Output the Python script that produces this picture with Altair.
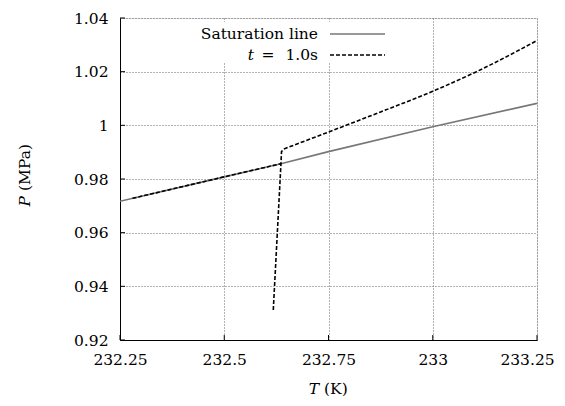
import altair as alt
import pandas as pd

# ---- data ----
sat_T = [232.25, 232.5, 232.636, 232.75, 233.0, 233.25]
sat_P = [0.9717, 0.9808, 0.9857, 0.9902, 0.9995, 1.0082]

# t = 1.0 s curve, three pieces
dashA_T = [232.28, 232.5, 232.636]
dashA_P = [0.9728, 0.9808, 0.9857]
dashB_T = [232.6176, 232.636, 232.6373, 232.643]
dashB_P = [0.9312, 0.9857, 0.9902, 0.9912]
dashC_T = [232.643, 232.75, 232.875, 233.0, 233.105, 233.25]
dashC_P = [0.9912, 0.9975, 1.0050, 1.0127, 1.0200, 1.0316]

x_ticks = [232.25, 232.5, 232.75, 233.0, 233.25]
y_ticks = [0.92, 0.94, 0.96, 0.98, 1.0, 1.02, 1.04]

legend_labels = ["Saturation line", "t", "=", "1.0s"]

FONT = "DejaVu Serif"
FS = 15.5
W, H = 417, 322

sat_df = pd.DataFrame({"T": sat_T, "P": sat_P, "i": range(len(sat_T))})
dA = pd.DataFrame({"T": dashA_T, "P": dashA_P, "i": range(len(dashA_T))})
dB = pd.DataFrame({"T": dashB_T, "P": dashB_P, "i": range(len(dashB_T))})
dC = pd.DataFrame({"T": dashC_T, "P": dashC_P, "i": range(len(dashC_T))})
xt_df = pd.DataFrame({"T": x_ticks})
yt_df = pd.DataFrame({"P": y_ticks})
one = pd.DataFrame({"a": [0]})

xscale = alt.Scale(domain=[x_ticks[0], x_ticks[-1]], nice=False, zero=False)
yscale = alt.Scale(domain=[y_ticks[0], y_ticks[-1]], nice=False, zero=False)

common_axis = dict(title=None, grid=True, gridDash=[1, 2], gridColor="#666", gridWidth=1,
                   ticks=False, domainColor="black", domainWidth=1, labelFont=FONT,
                   labelFontSize=FS, labelColor="black", labelFlush=False, labelOverlap=False,
                   labelExpr="format(datum.value, '.6~g')")
xaxis = alt.Axis(values=x_ticks, labelPadding=12,
                 labelOffset={"condition": {"test": "datum.value >= 233.2", "value": -10}, "value": 0},
                 **common_axis)
yaxis = alt.Axis(values=y_ticks, labelPadding=12, **common_axis)

sat = alt.Chart(sat_df).mark_line(color="#777777", strokeWidth=1.6, clip=True).encode(
    x=alt.X("T:Q", scale=xscale, axis=xaxis),
    y=alt.Y("P:Q", scale=yscale, axis=yaxis),
    order="i:Q",
)

def dline(df, interp="linear"):
    return alt.Chart(df).mark_line(color="black", strokeWidth=1.6, strokeDash=[4, 2], clip=True,
                                   interpolate=interp).encode(
        x=alt.X("T:Q", scale=xscale), y=alt.Y("P:Q", scale=yscale), order="i:Q")

dashA = dline(dA)
dashB = dline(dB)
dashC = dline(dC, "monotone")

xticks = alt.Chart(xt_df).mark_rule(color="black", strokeWidth=1).encode(
    x=alt.X("T:Q", scale=xscale), y=alt.value(H), y2=alt.value(H - 5))
yticks = alt.Chart(yt_df).mark_rule(color="black", strokeWidth=1).encode(
    y=alt.Y("P:Q", scale=yscale), x=alt.value(0), x2=alt.value(5))

def txt(s, x, y, align="left", italic=False, angle=None):
    kw = dict(font=FONT, fontSize=FS, align=align, baseline="middle", color="black", text=s)
    if italic:
        kw["fontStyle"] = "italic"
    if angle is not None:
        kw["angle"] = angle
    return alt.Chart(one).mark_text(**kw).encode(x=alt.value(x), y=alt.value(y))

leg_box = alt.Chart(one).mark_rect(color="white").encode(
    x=alt.value(80), x2=alt.value(275), y=alt.value(4), y2=alt.value(45))
leg_t1 = txt(legend_labels[0], 198, 16, align="right")
leg_t2 = txt(legend_labels[1], 134, 37, align="right", italic=True)
leg_t3 = txt(legend_labels[2], 148, 37, align="center")
leg_t4 = txt(legend_labels[3], 198, 37, align="right")
leg_l1 = alt.Chart(one).mark_rule(color="#777777", strokeWidth=1.6).encode(
    x=alt.value(210), x2=alt.value(265), y=alt.value(16))
leg_l2 = alt.Chart(one).mark_rule(color="black", strokeWidth=1.6, strokeDash=[4, 2]).encode(
    x=alt.value(210), x2=alt.value(265), y=alt.value(37))

xt1 = txt("T", 199, 371, align="right", italic=True)
xt2 = txt("(K)", 204, 371, align="left")
yt1 = txt("P", -95, 178, align="right", italic=True, angle=270)
yt2 = txt("(MPa)", -95, 173, align="left", angle=270)

chart = alt.layer(
    sat, dashA, dashB, dashC, xticks, yticks, leg_box, leg_l1, leg_l2,
    leg_t1, leg_t2, leg_t3, leg_t4, xt1, xt2, yt1, yt2
).properties(
    width=W, height=H,
    autosize=alt.AutoSizeParams(type="none"),
    padding={"left": 112, "top": 10, "right": 20, "bottom": 58},
).configure_view(stroke=None).configure(background="white")

chart.save("out.html", embed_options={"renderer": "svg", "actions": False})
